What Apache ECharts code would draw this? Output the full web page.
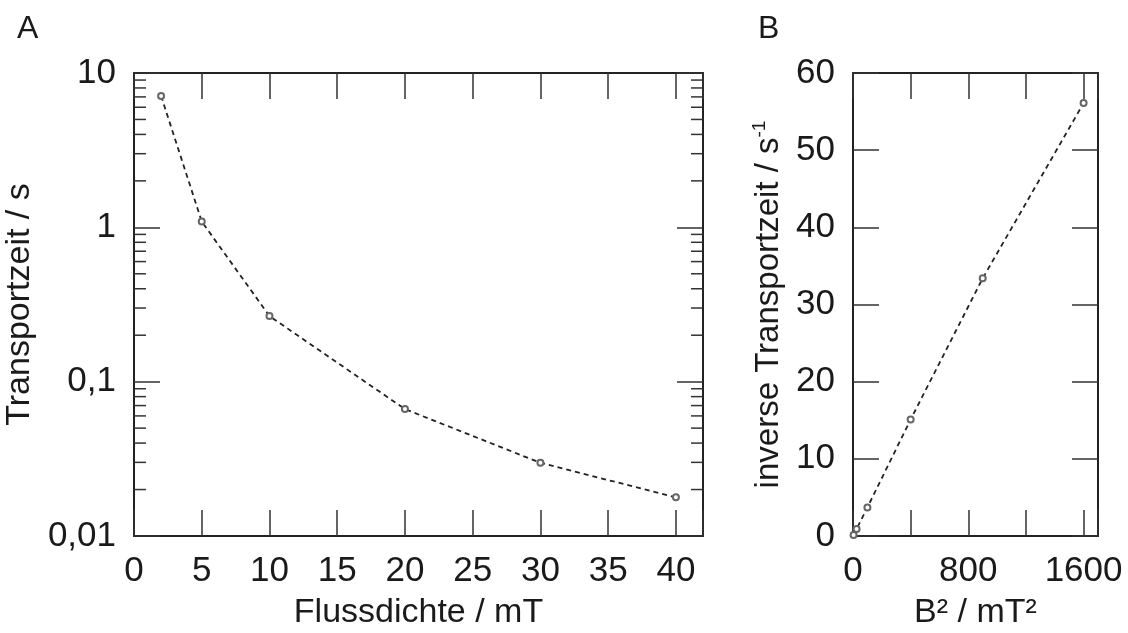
<!DOCTYPE html>
<html>
<head>
<meta charset="utf-8">
<script src="https://cdn.jsdelivr.net/npm/echarts@6/dist/echarts.min.js"></script>
<style>
html,body{margin:0;padding:0;background:#fff;}
#chart{width:1128px;height:633px;}
</style>
</head>
<body>
<div id="chart"></div>
<script>
// ---- data ----
const fluxDensity = [2, 5, 10, 20, 30, 40];               // mT
const transportTime = [7.1, 1.09, 0.266, 0.0664, 0.0298, 0.0178]; // s
const fluxSquared = [4, 25, 100, 400, 900, 1600];          // mT²
const inverseTime = [0.14, 0.92, 3.7, 15.1, 33.4, 56.1];   // 1/s
const logTickLabels = ['0,01', '0,1', '1', '10'];
const logDecades = [0.01, 0.1, 1];
const logMinorMultipliers = [2, 3, 4, 5, 6, 7, 8, 9];
const bSqLabelStep = 800;

const FONT = 'Liberation Sans, Arial, Helvetica, sans-serif';
const TXT = '#1a1a1a';
const LINE = '#222';
const TICK = '#333';
const TICK_FS = 35;
const NAME_FS = 34;

const minorTickValues = [];
logDecades.forEach(d => logMinorMultipliers.forEach(m => minorTickValues.push([0, +(d * m).toPrecision(3)])));

function axisBase(extra) {
  return Object.assign({
    axisLine: { show: true, onZero: false, lineStyle: { color: LINE, width: 2 } },
    axisTick: { show: true, inside: true, length: 26, lineStyle: { color: TICK, width: 1.5 } },
    splitLine: { show: false },
    axisLabel: { show: true, color: TXT, fontFamily: FONT, fontSize: TICK_FS, margin: 18 },
    nameTextStyle: { color: TXT, fontFamily: FONT, fontSize: NAME_FS }
  }, extra);
}

const chart = echarts.init(document.getElementById('chart'), null, { renderer: 'canvas' });

const option = {
  backgroundColor: '#fff',
  animation: false,
  title: [
    { text: 'A', left: 12, top: 8, textStyle: { fontFamily: FONT, fontSize: 32, fontWeight: 'normal', color: TXT } },
    { text: 'B', left: 753, top: 8, textStyle: { fontFamily: FONT, fontSize: 32, fontWeight: 'normal', color: TXT } }
  ],
  grid: [
    { left: 134, top: 73, width: 569, height: 463, containLabel: false, outerBoundsMode: 'none' },
    { left: 853, top: 73, width: 245, height: 463, containLabel: false, outerBoundsMode: 'none' }
  ],
  xAxis: [
    axisBase({ gridIndex: 0, type: 'value', position: 'bottom', min: 0, max: 42, interval: 5,
      name: 'Flussdichte / mT', nameLocation: 'middle', nameGap: 60,
      axisLabel: { color: TXT, fontFamily: FONT, fontSize: TICK_FS, margin: 18,
        formatter: v => (v % 5 === 0 ? String(v) : '') } }),
    axisBase({ gridIndex: 0, type: 'value', position: 'top', min: 0, max: 42, interval: 5,
      axisLabel: { show: false } }),
    axisBase({ gridIndex: 1, type: 'value', position: 'bottom', min: 0, max: 1700, interval: 400,
      name: 'B² / mT²', nameLocation: 'middle', nameGap: 60,
      axisLabel: { color: TXT, fontFamily: FONT, fontSize: TICK_FS, margin: 18,
        formatter: v => (v % bSqLabelStep === 0 ? String(v) : '') } }),
    axisBase({ gridIndex: 1, type: 'value', position: 'top', min: 0, max: 1700, interval: 400,
      axisLabel: { show: false } })
  ],
  yAxis: [
    axisBase({ gridIndex: 0, type: 'log', logBase: 10, position: 'left', min: 0.01, max: 10,
      name: 'Transportzeit / s', nameLocation: 'middle', nameGap: 86, nameRotate: 90,
      axisLabel: { color: TXT, fontFamily: FONT, fontSize: TICK_FS, margin: 18,
        formatter: v => { const i = Math.round(Math.log10(v)) + 2; return logTickLabels[i] || ''; } } }),
    axisBase({ gridIndex: 0, type: 'log', logBase: 10, position: 'right', min: 0.01, max: 10,
      axisLabel: { show: false } }),
    axisBase({ gridIndex: 1, type: 'value', position: 'left', min: 0, max: 60, interval: 10,
      name: 'inverse Transportzeit / s{sup|-1}', nameLocation: 'middle', nameGap: 66, nameRotate: 90,
      nameTextStyle: { color: TXT, fontFamily: FONT, fontSize: NAME_FS - 1,
        rich: { sup: { color: TXT, fontFamily: FONT, fontSize: 19, padding: [0, 0, 18, 0] } } } }),
    axisBase({ gridIndex: 1, type: 'value', position: 'right', min: 0, max: 60, interval: 10,
      axisLabel: { show: false } })
  ],
  series: [
    {
      type: 'line', xAxisIndex: 0, yAxisIndex: 0,
      data: fluxDensity.map((b, i) => [b, transportTime[i]]),
      symbol: 'emptyCircle', symbolSize: 6,
      itemStyle: { color: '#666', borderColor: LINE, borderWidth: 2 },
      lineStyle: { color: LINE, width: 1.8, type: [5, 4] }
    },
    {
      type: 'line', xAxisIndex: 2, yAxisIndex: 2,
      data: fluxSquared.map((b, i) => [b, inverseTime[i]]),
      symbol: 'emptyCircle', symbolSize: 6,
      itemStyle: { color: '#666', borderColor: LINE, borderWidth: 2 },
      lineStyle: { color: LINE, width: 1.8, type: [5, 4] }
    },
    {
      type: 'custom', xAxisIndex: 0, yAxisIndex: 0, silent: true, clip: false,
      data: minorTickValues,
      renderItem: function (params, api) {
        const cs = params.coordSys;
        const y = api.coord([0, api.value(1)])[1];
        const st = { stroke: TICK, lineWidth: 1.5 };
        return { type: 'group', children: [
          { type: 'line', shape: { x1: cs.x, y1: y, x2: cs.x + 12, y2: y }, style: st },
          { type: 'line', shape: { x1: cs.x + cs.width - 12, y1: y, x2: cs.x + cs.width, y2: y }, style: st }
        ] };
      }
    }
  ]
};
chart.setOption(option);
</script>
</body>
</html>
